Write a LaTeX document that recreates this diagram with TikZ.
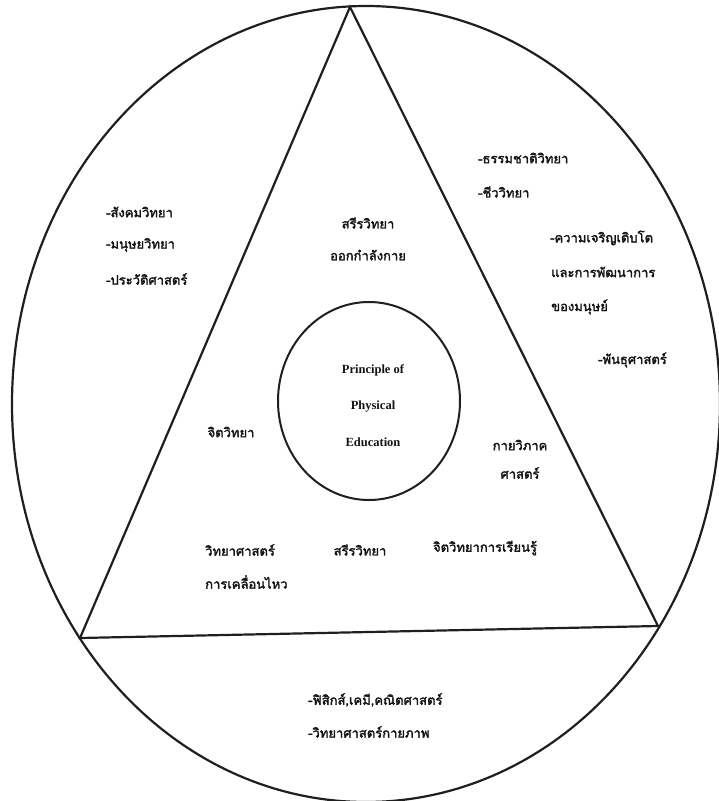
\documentclass[tikz,border=0pt]{standalone}
\usepackage{fontspec}
\usetikzlibrary{shapes.geometric}
\newfontfamily\thaifont[Script=Thai, FakeBold=2.2]{Loma}
\newfontfamily\serifen{Liberation Serif}
\begin{document}
\begin{tikzpicture}[x=1pt,y=-1pt,
  shape line/.style={draw=black!88, line width=2.2pt},
  th/.style={font=\thaifont\fontsize{13}{15}\selectfont, inner sep=0pt, text=black!92},
  thl/.style={th, anchor=west},
  en/.style={font=\serifen\bfseries\fontsize{12.5}{14}\selectfont, inner sep=0pt, text=black!92}]
\useasboundingbox (0,0) rectangle (719,801);
% outer ellipse
\draw[shape line] (366,404) ellipse [x radius=354, y radius=398];
% triangle (corners on the ellipse)
\coordinate (apex) at (350,7);
\coordinate (bl) at (80,638);
\coordinate (br) at (658,626);
\draw[shape line, line join=miter] (apex) -- (bl) -- (br) -- cycle;
% inner circle
\node[draw=black!88, line width=2pt, ellipse, minimum width=182pt, minimum height=198pt] (core) at (369,401) {};
\node[en] (p1) at (373,370) {Principle of};
\node[en] (p2) at (373,407) {Physical};
\node[en] (p3) at (373,442) {Education};
% left sector
\node[thl] (l1) at (106,212) {-สังคมวิทยา};
\node[thl] (l2) at (106,245) {-มนุษยวิทยา};
\node[thl] (l3) at (106,279) {-ประวัติศาสตร์};
% right sector
\node[thl] (r1) at (478,158) {-ธรรมชาติวิทยา};
\node[thl] (r2) at (478,192) {-ชีววิทยา};
\node[thl] (r3) at (550,238) {-ความเจริญเติบโต};
\node[thl] (r4) at (551,272) {และการพัฒนาการ};
\node[thl] (r5) at (551,307) {ของมนุษย์};
\node[thl] (r6) at (598,360) {-พันธุศาสตร์};
% triangle interior
\node[th] (t1) at (368,223) {สรีรวิทยา};
\node[th] (t2) at (368,255) {ออกกำลังกาย};
\node[th] (t3) at (231,432) {จิตวิทยา};
\node[th] (t4) at (520,445) {กายวิภาค};
\node[th] (t5) at (520,473) {ศาสตร์};
\node[thl] (t6) at (205,550) {วิทยาศาสตร์};
\node[thl] (t7) at (205,582) {การเคลื่อนไหว};
\node[th] (t8) at (360,550) {สรีรวิทยา};
\node[th] (t9) at (485,548) {จิตวิทยาการเรียนรู้};
% bottom sector
\node[thl] (b1) at (308,700) {-ฟิสิกส์,เคมี,คณิตศาสตร์};
\node[thl] (b2) at (308,732) {-วิทยาศาสตร์กายภาพ};
\end{tikzpicture}
\end{document}
